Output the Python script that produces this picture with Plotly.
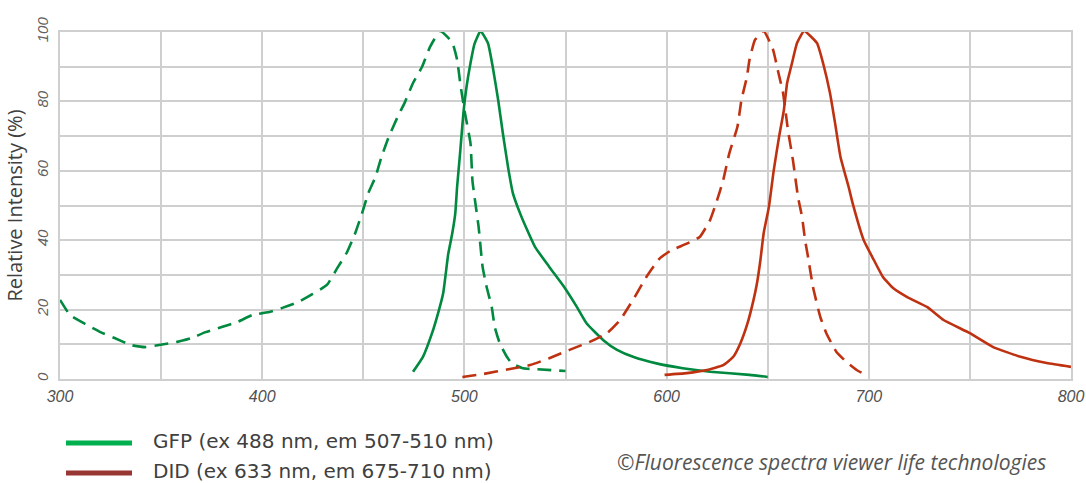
import plotly.graph_objects as go

# ---------------- data ----------------
gfp_ex_x = [300, 305, 312, 320, 327, 335, 342, 349, 358, 365, 372, 380, 388, 395, 404, 410, 418,
            425, 432, 437.5, 442, 446, 449.4, 452.5, 456, 459, 462.4, 466.7, 470.6, 474.6, 479, 483,
            488, 494, 496.4, 498, 500, 503, 504, 507, 509, 511, 513.5, 515, 517.5, 521, 523.5, 529,
            536, 550]
gfp_ex_y = [22.8, 18.4, 16, 13.5, 11.8, 9.8, 9.2, 9.8, 10.7, 11.8, 13.5, 15, 16.5, 18.4, 19.4, 20.5,
            22.2, 24.5, 27.1, 32.3, 36.6, 42, 47.8, 53.6, 58.2, 64, 69.5, 75.2, 79.8, 85.3, 89.9, 95.7,
            100.3, 97, 92, 85, 77.5, 68, 57, 44, 32.3, 26.5, 20.8, 15, 10.3, 6.4, 4.5, 3.1, 2.8, 2.3]

gfp_em_x = [474.6, 479.5, 484, 487, 489.5, 492, 494, 495.5, 496.4, 498, 499.5, 501, 503, 505, 508,
            511.7, 514, 516.7, 519, 521.6, 524, 527.5, 531, 535, 542, 549, 555.6, 560.5, 568.7,
            575.5, 583.4, 595, 608, 621.5, 641, 650]
gfp_em_y = [2.1, 6.4, 13.2, 19, 24.7, 36, 42, 47.8, 55.4, 66, 76.6, 84, 91, 96.6, 100.3, 96.7, 90,
            80.4, 70.9, 61, 53.5, 47.8, 43, 38, 32.3, 26.8, 20.8, 16, 11.2, 8.4, 6.4, 4.5, 3.1, 2.1,
            1.2, 0.6]

did_ex_x = [499, 509, 522.5, 532.5, 542, 552, 562, 570.5, 577, 583.4, 590, 596.5, 602, 610, 616.5,
            621.5, 625, 628, 631, 635, 637, 639.7, 641, 643.7, 648, 652.6, 655, 657.6, 660, 662.5,
            665, 667, 668.5, 670, 672.4, 676, 679, 684, 689, 694, 697, 700]
did_ex_y = [0.6, 1.4, 2.9, 4, 6, 8.4, 10.7, 13.2, 17, 22.8, 29.4, 34.7, 37, 39, 41, 45.8, 51.6, 57.3,
            65, 72.6, 80.4, 87, 92, 97.7, 100.3, 95, 89, 82.4, 71.8, 63, 52.4, 46.7, 40, 35, 26.5,
            17.9, 13.2, 7.8, 4.9, 2.6, 1.7, 1.7]

did_em_x = [599, 610, 620, 628, 633, 636.5, 640, 643, 644.7, 646.4, 648, 650.6, 653, 655.6, 658,
            659.6, 662, 664.5, 668, 674.4, 677.4, 680.8, 683.3, 686, 690, 692, 697.5, 702.5, 707,
            712, 719, 729, 737, 750, 761.5, 775, 788, 800]
did_em_y = [1.2, 1.7, 2.6, 4, 6.4, 10.3, 16, 22.8, 27.6, 34.3, 42, 49.6, 60.2, 69.7, 77.5, 85.3, 91,
            96.8, 100.3, 96.8, 91, 82.4, 73.8, 64, 55.4, 50.7, 40, 34.3, 29.4, 26.2, 23.6, 20.7, 17,
            13.2, 9.2, 6.4, 4.6, 3.5]

legend_labels = ["GFP (ex 488 nm, em 507-510 nm)", "DID (ex 633 nm, em 675-710 nm)"]
x_ticks = [300, 400, 500, 600, 700, 800]
y_ticks = [0, 20, 40, 60, 80, 100]
credit = "©Fluorescence spectra viewer life technologies"

# ---------------- style ----------------
GREEN = "#00893f"
RED = "#bf3211"
LEG_GREEN = "#00b04f"
LEG_RED = "#983632"
GRID = "#cfcfcf"
W, H = 1086, 483
ML, MR, MT, MB = 60, 15, 32, 104
PW, PH = W - ML - MR, H - MT - MB


def px_x(px):
    return (px - ML) / PW


def px_y(py):
    return (H - MB - py) / PH


dash = "14px,8px"
LW = 2.6
fig = go.Figure()
fig.add_trace(go.Scatter(x=gfp_ex_x, y=gfp_ex_y, mode="lines", cliponaxis=False,
                         line=dict(color=GREEN, width=LW, dash=dash, shape="spline", smoothing=0.4),
                         showlegend=False))
fig.add_trace(go.Scatter(x=gfp_em_x, y=gfp_em_y, mode="lines", cliponaxis=False,
                         line=dict(color=GREEN, width=LW, shape="spline", smoothing=0.4),
                         showlegend=False))
fig.add_trace(go.Scatter(x=did_ex_x, y=did_ex_y, mode="lines", cliponaxis=False,
                         line=dict(color=RED, width=LW, dash=dash, shape="spline", smoothing=0.4),
                         showlegend=False))
fig.add_trace(go.Scatter(x=did_em_x, y=did_em_y, mode="lines", cliponaxis=False,
                         line=dict(color=RED, width=LW, shape="spline", smoothing=0.4),
                         showlegend=False))

# legend drawn as shapes + text
for i, (lab, col) in enumerate(zip(legend_labels, [LEG_GREEN, LEG_RED])):
    py = 443 + i * 30
    fig.add_shape(type="line", xref="paper", yref="paper", x0=px_x(66), x1=px_x(132),
                  y0=px_y(py), y1=px_y(py), line=dict(color=col, width=5))
    fig.add_annotation(xref="paper", yref="paper", x=px_x(151), y=px_y(py - 2), text=lab,
                       showarrow=False, xanchor="left", yanchor="middle",
                       font=dict(family="DejaVu Sans, Verdana, sans-serif", size=20, color="#404040"))

fig.add_annotation(xref="paper", yref="paper", x=px_x(615), y=px_y(462), text=credit,
                   showarrow=False, xanchor="left", yanchor="middle",
                   font=dict(family="Open Sans, Noto Sans, sans-serif", size=21, color="#555555",
                             style="italic"))

fig.update_layout(
    width=W, height=H,
    margin=dict(l=ML, r=MR, t=MT, b=MB, autoexpand=False),
    paper_bgcolor="white", plot_bgcolor="white",
    showlegend=False,
)
fig.update_xaxes(
    range=[300, 800], tickvals=x_ticks, ticktext=[str(v) for v in x_ticks],
    showgrid=True, gridcolor=GRID, gridwidth=1.5, automargin=False,
    minor=dict(dtick=50, showgrid=True, gridcolor=GRID, gridwidth=1.5),
    showline=True, linecolor=GRID, linewidth=1.5, mirror=True, zeroline=False,
    ticks="", ticklabelstandoff=2,
    tickfont=dict(family="Liberation Sans Narrow, Arial Narrow, Liberation Sans, sans-serif",
                  size=16, color="#505050", style="italic"),
)
fig.update_yaxes(
    range=[0, 100], tickvals=y_ticks, ticktext=[str(v) for v in y_ticks],
    showgrid=True, gridcolor=GRID, gridwidth=1.5, automargin=False,
    minor=dict(dtick=10, showgrid=True, gridcolor=GRID, gridwidth=1.5),
    showline=True, linecolor=GRID, linewidth=1.5, mirror=True, zeroline=False,
    ticks="", tickangle=-90, ticklabelstandoff=4,
    tickfont=dict(family="Liberation Sans Narrow, Arial Narrow, Liberation Sans, sans-serif",
                  size=15, color="#606060", style="italic"),
    title=dict(text="Relative Intensity (%)", standoff=6,
               font=dict(family="Open Sans, Noto Sans, sans-serif", size=20, color="#404040")),
)

fig.write_html(
    "out.html",
    config={"displayModeBar": False},
    post_script=(
        "document.documentElement.style.margin='0';document.documentElement.style.padding='0';"
        "document.documentElement.style.overflow='hidden';"
        "document.body.style.margin='0';document.body.style.padding='0';"
        "document.body.style.overflow='hidden';"
    ),
)
